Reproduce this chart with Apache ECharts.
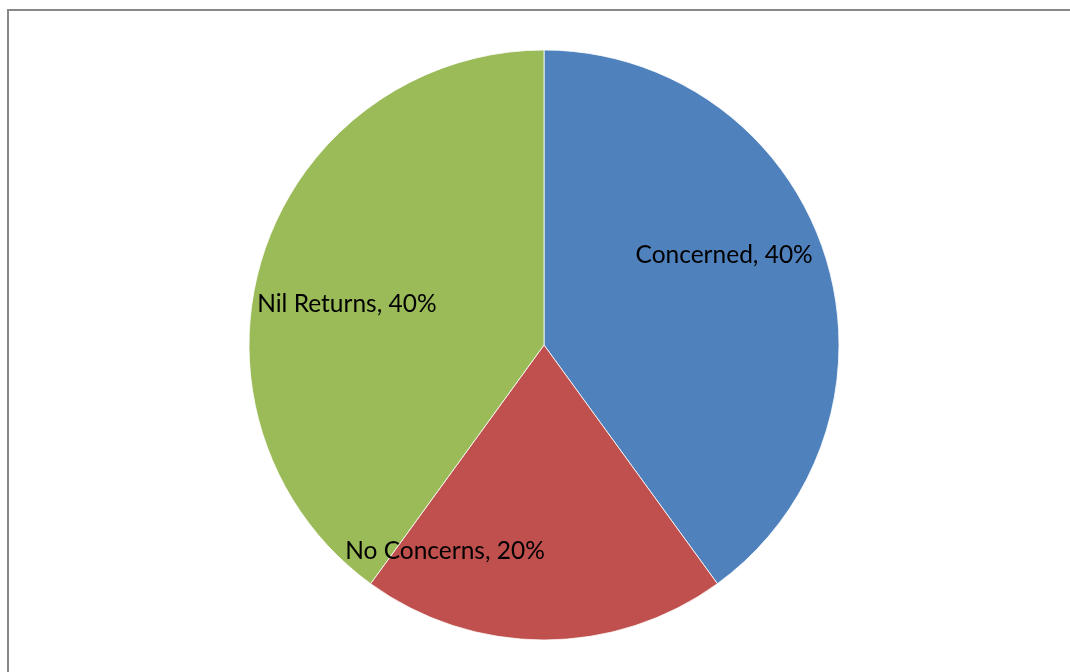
<!DOCTYPE html>
<html>
<head>
<meta charset="utf-8">
<script src="https://cdn.jsdelivr.net/npm/echarts@6/dist/echarts.min.js"></script>
<style>
  html, body { margin: 0; padding: 0; background: #fff; }
  #chart { width: 1070px; height: 672px; }
</style>
</head>
<body>
<div id="chart"></div>
<script>
// Response categories and their shares (percent)
const categories = ['Concerned', 'No Concerns', 'Nil Returns'];
const shares = [40, 20, 40];
const sliceColors = ['#4F81BD', '#C0504D', '#9BBB59'];

// Label nudges away from the default "inside" anchor, per slice
const labelNudge = [
  { dx: 37, dy: -43 },
  { dx: -99, dy: 56 },
  { dx: -54, dy: 6 }
];

const chart = echarts.init(document.getElementById('chart'), null, { renderer: 'canvas' });

chart.setOption({
  backgroundColor: '#ffffff',
  animation: false,
  graphic: [{
    type: 'rect',
    shape: { x: 8, y: 10, width: 1100, height: 700 },
    style: { fill: 'none', stroke: '#888888', lineWidth: 2 },
    silent: true,
    z: -1
  }],
  series: [{
    type: 'pie',
    center: [544, 345],
    radius: 295,
    startAngle: 90,
    clockwise: true,
    percentPrecision: 0,
    avoidLabelOverlap: false,
    itemStyle: { borderColor: '#ffffff', borderWidth: 0.8 },
    label: {
      show: true,
      position: 'inside',
      formatter: '{b}, {d}%',
      color: '#000000',
      fontFamily: 'Lato, "Liberation Sans", sans-serif',
      fontSize: 24.5
    },
    labelLine: { show: false },
    emphasis: { disabled: true },
    labelLayout: function (params) {
      return labelNudge[params.dataIndex];
    },
    data: categories.map((name, i) => ({
      name: name,
      value: shares[i],
      itemStyle: { color: sliceColors[i] }
    }))
  }]
});
</script>
</body>
</html>
